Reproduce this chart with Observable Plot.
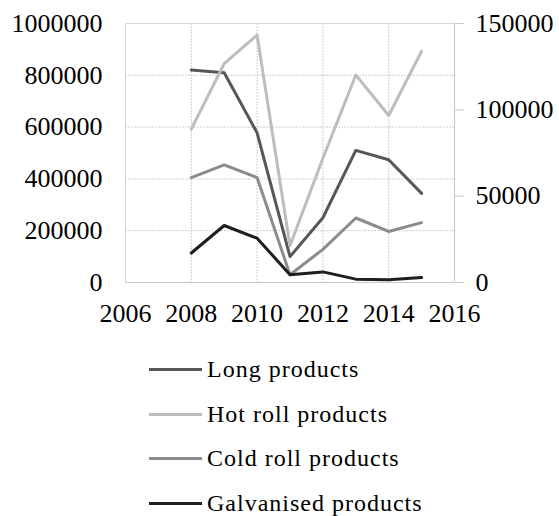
<!DOCTYPE html>
<html><head><meta charset="utf-8">
<script src="https://cdn.jsdelivr.net/npm/d3@7"></script>
<script src="https://cdn.jsdelivr.net/npm/@observablehq/plot@0.6"></script>
<style>
body{margin:0;background:#fff;font-family:"Liberation Serif","Times New Roman",serif;}
#legend{padding-top:17px;}
.row{display:flex;align-items:center;height:44.7px;margin-left:149px;font-size:24px;letter-spacing:1px;color:#000;white-space:nowrap}
.sw{width:53px;height:3px;margin-right:5px;flex:none}
</style></head><body><div id="chart"></div><div id="legend"></div>
<script>
const years = [2008, 2009, 2010, 2011, 2012, 2013, 2014, 2015];
const longProducts = [820000, 810000, 578000, 100000, 250000, 510000, 474000, 344000];
const hotRoll = [592000, 845000, 955000, 142000, 480000, 801000, 645000, 893000];
const coldRoll = [405000, 454000, 405000, 30000, 128000, 249000, 197000, 231000];
const galvanised = [114000, 220000, 171000, 30000, 41000, 13000, 11000, 19000];
const seriesNames = ["Long products", "Hot roll products", "Cold roll products", "Galvanised products"];
const seriesValues = [longProducts, hotRoll, coldRoll, galvanised];
const seriesColors = ["#575757", "#bdbdbd", "#8c8c8c", "#1e1e1e"];
const leftTicks = [0, 200000, 400000, 600000, 800000, 1000000];
const rightTicks = [0, 50000, 100000, 150000];
const xTicks = [2006, 2008, 2010, 2012, 2014, 2016];
const leftMax = 1000000, rightMax = 150000;

const data = seriesNames.flatMap((name, i) => years.map((year, j) => ({name, year, value: seriesValues[i][j]})));
const fmt = d3.format("d");
const grid = {stroke: "#cfcfcf", strokeOpacity: 1, strokeDasharray: "2,1"};

const plot = Plot.plot({
  width: 559, height: 330,
  marginLeft: 125, marginRight: 105, marginTop: 23, marginBottom: 48,
  style: {fontFamily: "'Liberation Serif', serif", fontSize: "26px", color: "#000", background: "#fff"},
  x: {domain: [2006, 2016]},
  y: {domain: [0, leftMax]},
  color: {domain: seriesNames, range: seriesColors},
  marks: [
    Plot.gridY(leftTicks.slice(1, -1), grid),
    Plot.gridX(xTicks.slice(1, -1), grid),
    Plot.ruleY([leftMax], {stroke: "#d9d9d9"}),
    Plot.ruleX([2006], {stroke: "#d9d9d9"}),
    Plot.ruleX([2016], {stroke: "#c8c8c8"}),
    Plot.ruleY([0], {stroke: "#c8c8c8"}),
    Plot.axisY(leftTicks, {anchor: "left", tickSize: 0, tickPadding: 23, tickFormat: fmt, label: null}),
    Plot.axisY(rightTicks.map(t => t / rightMax * leftMax), {anchor: "right", tickSize: 9, tickPadding: 12, stroke: "#c8c8c8", tickFormat: d => fmt(Math.round(d / leftMax * rightMax)), label: null}),
    Plot.axisX(xTicks, {anchor: "bottom", tickSize: 0, tickPadding: 21, tickFormat: fmt, label: null}),
    Plot.line(data, {x: "year", y: "value", z: "name", stroke: "name", strokeWidth: 3})
  ]
});
document.getElementById("chart").appendChild(plot);

const legend = document.getElementById("legend");
seriesNames.forEach((name, i) => {
  const row = document.createElement("div");
  row.className = "row";
  const sw = document.createElement("div");
  sw.className = "sw";
  sw.style.background = seriesColors[i];
  const label = document.createElement("span");
  label.textContent = name;
  row.appendChild(sw);
  row.appendChild(label);
  legend.appendChild(row);
});
</script>
</body></html>
